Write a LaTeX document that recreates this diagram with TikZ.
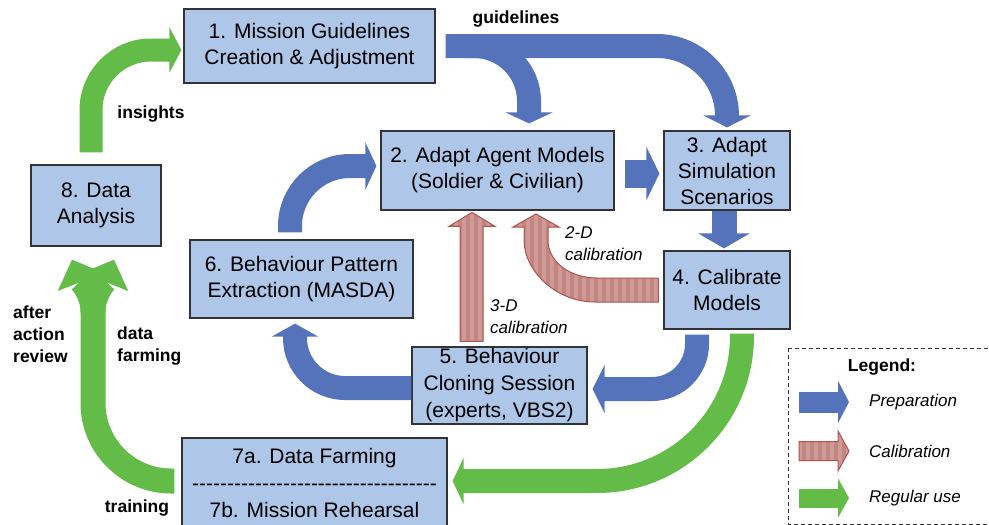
\documentclass[tikz,border=0pt]{standalone}
\usepackage{fontspec}
\setmainfont{Liberation Sans}
\usetikzlibrary{arrows.meta,patterns.meta,positioning}
\definecolor{boxfill}{RGB}{174,198,232}
\definecolor{boxbd}{RGB}{50,50,55}
\definecolor{prepc}{RGB}{85,115,186}
\definecolor{regc}{RGB}{99,187,72}
\definecolor{calfill}{RGB}{194,133,129}
\definecolor{calstripe}{RGB}{206,154,150}
\definecolor{calbd}{RGB}{178,82,78}
\newcommand\hyrow{\foreach\k in {1,...,35}{-\kern0pt}}
\tikzset{
  box/.style={draw=boxbd, fill=boxfill, line width=1.2pt, align=center, inner sep=0pt,
    font=\fontsize{21}{26}\selectfont},
  prep/.style={draw=prepc, line width=24pt},
  regular/.style={draw=regc, line width=24pt},
  calib/.style={draw=calbd, line width=1pt, preaction={fill=calfill},
    preaction={pattern={Lines[angle=90,distance=8pt,line width=3.5pt]}, pattern color=calstripe}},
  blockhead/.style 2 args={-{Triangle[length=#1,width=#2]}},
  lbl/.style={font=\bfseries\fontsize{17.5}{22}\selectfont, align=left, inner sep=0pt},
  ilbl/.style={font=\itshape\fontsize{17}{22}\selectfont, align=left, inner sep=0pt},
}
\begin{document}
\begin{tikzpicture}[x=1pt,y=-1pt]
\useasboundingbox (0,0) rectangle (989,525);
% process boxes
\node[box, minimum width=251pt, minimum height=74pt] (b1) at (309.5,46) {1. Mission Guidelines\\Creation \& Adjustment};
\node[box, minimum width=233pt, minimum height=79pt] (b2) at (497.5,170.5) {2. Adapt Agent Models\\(Soldier \& Civilian)};
\node[box, minimum width=126pt, minimum height=79pt] (b3) at (727,170.5) {3. Adapt\\Simulation\\Scenarios};
\node[box, minimum width=126pt, minimum height=78pt] (b4) at (727,290) {4. Calibrate\\Models};
\node[box, minimum width=175pt, minimum height=77pt, font=\fontsize{21}{27}\selectfont] (b5) at (499.5,385.5) {5. Behaviour\\Cloning Session\\(experts, VBS2)};
\node[box, minimum width=223pt, minimum height=78pt] (b6) at (301.5,279) {6. Behaviour Pattern\\Extraction (MASDA)};
\node[box, minimum width=265pt, minimum height=90pt, font=\fontsize{21}{27}\selectfont] (b7) at (314.5,483) {7a. Data Farming\\\hyrow\\7b. Mission Rehearsal};
\node[box, minimum width=130pt, minimum height=81pt] (b8) at (96,205.5) {8. Data\\Analysis};
% preparation arrows
\draw[prep, rounded corners=70pt, blockhead={12pt}{47pt}] ([xshift=10pt]b1.east) -| ([yshift=3pt]b3.north);
\draw[prep, rounded corners=55pt, blockhead={11pt}{47pt}] ([xshift=30pt]b1.east) -| ([xshift=31.5pt,yshift=7pt]b2.north);
\draw[prep, line width=28pt, blockhead={13pt}{53pt}] ([xshift=10pt,yshift=-3pt]b2.east) -- ([xshift=-4pt,yshift=-3pt]b3.west);
\draw[prep, line width=25pt, blockhead={15pt}{51pt}] ([xshift=-3pt]b3.south) -- ([xshift=-3pt,yshift=2pt]b4.north);
\draw[prep, rounded corners=45pt, blockhead={12pt}{48pt}] ([xshift=-30pt,yshift=-5pt]b4.south) |- ([xshift=5pt,yshift=-3.5pt]b5.east);
\draw[prep, rounded corners=50pt, blockhead={13pt}{46pt}] ([yshift=-2.5pt]b5.west) -| ([xshift=-6.5pt,yshift=-5pt]b6.south);
\draw[prep, rounded corners=60pt, blockhead={11pt}{47pt}] ([xshift=-11.5pt,yshift=7pt]b6.north) |- ([xshift=-4pt,yshift=4.5pt]b2.west);
% calibration arrows
\draw[calib] ([xshift=-39.5pt,yshift=5pt]b5.north) -- ++(0,-115) -- ++(-11,0) -- ++(23,-14) -- ++(23,14) -- ++(-12,0) -- ++(0,115) -- cycle;
\draw[calib] ([xshift=-5pt,yshift=-12pt]b4.west) -- (595,302) .. controls (555,302) and (524,270) .. (524,240)
  -- (524,227) -- (513,227) -- (536,214) -- (559,227) -- (548,227) -- (548,240)
  .. controls (548,262) and (570,278) .. (597,278) -- ([xshift=-5pt,yshift=12pt]b4.west) -- cycle;
% regular use arrows
\draw[regular, line width=23pt, rounded corners=60pt, blockhead={12pt}{45pt}] ([xshift=-5pt,yshift=12pt]b8.north) |- ([xshift=-2pt,yshift=-4pt]b1.west);
\draw[regular, rounded corners=145pt, blockhead={11pt}{46pt}] ([xshift=15pt,yshift=-4pt]b4.south) |- ([xshift=5pt,yshift=2pt]b7.east);
\coordinate (fork) at (93,312);
\draw[regular, line width=25pt, rounded corners=78pt] ([xshift=-7pt,yshift=2pt]b7.west) -| (fork);
\draw[regular, line width=25pt, blockhead={24pt}{48pt}] (fork) .. controls (93,292) and (80,280) .. ([xshift=-24pt,yshift=-13pt]b8.south);
\draw[regular, line width=25pt, blockhead={24pt}{48pt}] (fork) .. controls (93,292) and (106,280) .. ([xshift=18pt,yshift=-13pt]b8.south);
% labels
\node[lbl] (lguide) at (516,19) {guidelines};
\node[lbl] (linsight) at (151,114) {insights};
\node[ilbl, anchor=west] (l2d) at (565,244) {2-D\\calibration};
\node[ilbl, anchor=west] (l3d) at (490,317) {3-D\\calibration};
\node[lbl, anchor=west] (laar) at (13,334) {after\\action\\review};
\node[lbl, anchor=west] (lfarm) at (117,346) {data\\farming};
\node[lbl] (ltrain) at (137,508) {training};
% legend
\draw[boxbd, line width=1pt, dash pattern=on 4pt off 3pt] (788,348) -- (1100,348) (788,348) -- (788,524) -- (1100,524);
\node[lbl] (leg) at (882,367) {Legend:};
\node[ilbl, anchor=west] (lprep) at (869,402) {Preparation};
\node[ilbl, anchor=west] (lcal) at (869,451) {Calibration};
\node[ilbl, anchor=west] (lreg) at (869,498) {Regular use};
\draw[prep, line width=21pt, blockhead={11pt}{42pt}] ([xshift=-70pt]lprep.west) -- ([xshift=-20pt]lprep.west);
\draw[calib] ([xshift=-70pt,yshift=9.5pt]lcal.west) -- ++(39,0) -- ++(0,-10.5) -- ++(11,20) -- ++(-11,20) -- ++(0,-10.5) -- ++(-39,0) -- cycle;
\draw[regular, line width=19pt, blockhead={11pt}{39pt}] ([xshift=-70pt]lreg.west) -- ([xshift=-20pt]lreg.west);
\end{tikzpicture}
\end{document}
